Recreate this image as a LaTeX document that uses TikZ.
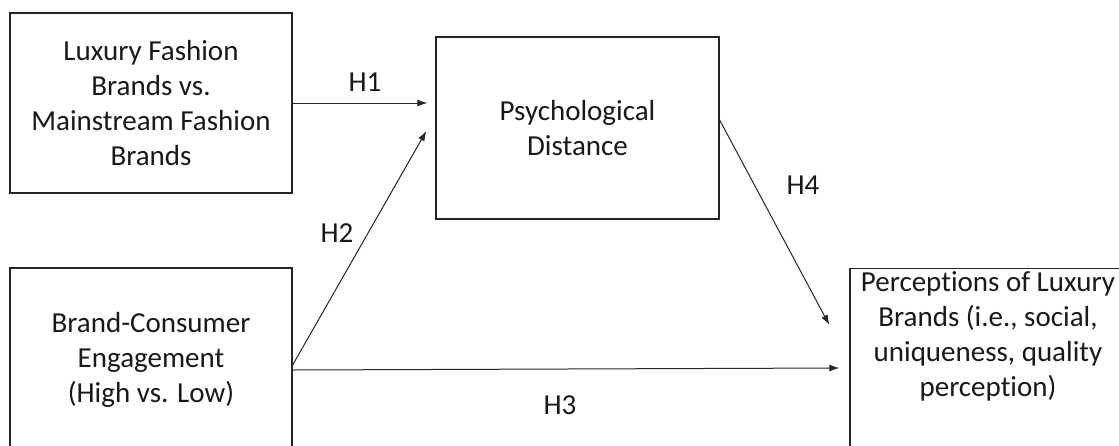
\documentclass[tikz,border=0pt]{standalone}
\usepackage{fontspec}
\setmainfont{Carlito}[Ligatures=NoCommon]
\usetikzlibrary{arrows.meta,positioning,calc}

\begin{document}
\begin{tikzpicture}[
  x=1pt, y=-1pt,
  >=Latex,
  arr/.style={-{Latex[length=10pt,width=7pt]}, line width=1pt, draw=black!85},
  box/.style={draw=black!85, line width=1.3pt, align=center,
    font=\fontsize{29}{35}\selectfont, text=black!90, inner sep=3pt},
  hyp/.style={font=\fontsize{29}{35}\selectfont, text=black!90, inner sep=0pt},
]
\clip (0,0) rectangle (1119,445);
\fill[white] (0,0) rectangle (1119,445);

% ── boxes ───────────────────────────────────────────────────────────────────
\node[box, minimum width=282, minimum height=180] (brandtype) at (151,103)
  {Luxury Fashion\\ Brands vs.\\ Mainstream Fashion\\ Brands};

\node[box, minimum width=283, minimum height=182] (psych) at (577.5,128)
  {Psychological\\ Distance};

\node[box, minimum width=282, minimum height=184] (engage) at (151,360)
  {Brand-Consumer\\ Engagement\\ (High vs. Low)};

% outcome box runs past the lower right edge
\node[box, anchor=north, minimum width=276, text depth=120pt] (outcome) at (988,268)
  {Perceptions of Luxury\\ Brands (i.e., social,\\ uniqueness, quality\\ perception)};

% ── arrows ──────────────────────────────────────────────────────────────────
\draw[arr, shorten >=8pt] (brandtype.east) -- (brandtype.east -| psych.west);
\draw[arr] ([yshift=-5pt]engage.east) -- ([xshift=-9pt,yshift=-3pt]psych.west);
\draw[arr] ([yshift=-10pt]engage.east) -- ([xshift=-10pt,yshift=-100pt]outcome.north west);
\draw[arr] ([yshift=8pt]psych.east) -- ([xshift=-20pt,yshift=-57pt]outcome.north west);

% ── hypothesis labels ───────────────────────────────────────────────────────
\node[hyp] (h1) at (365,82)  {H1};
\node[hyp] (h2) at (337,233) {H2};
\node[hyp] (h3) at (560,405) {H3};
\node[hyp] (h4) at (803,185) {H4};
\end{tikzpicture}
\end{document}
